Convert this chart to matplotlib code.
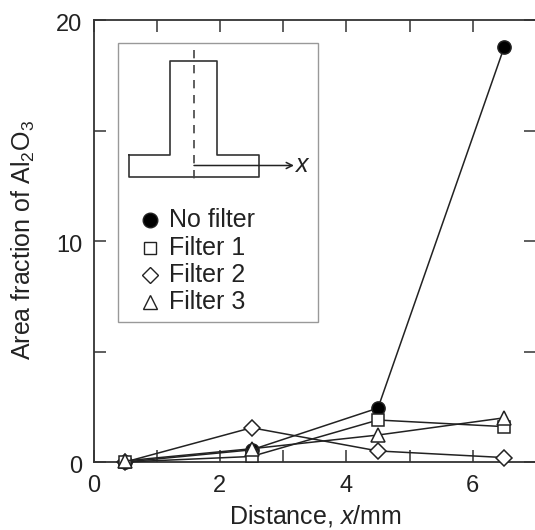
import matplotlib.pyplot as plt
from matplotlib.patches import FancyArrowPatch
from matplotlib.transforms import ScaledTranslation

# Datos
x = [0.5, 2.5, 4.5, 6.5]
no_filter = [0.0, 0.55, 2.44, 18.8]
filter_1 = [0.0, 0.25, 1.9, 1.6]
filter_2 = [0.0, 1.55, 0.5, 0.2]
filter_3 = [0.05, 0.6, 1.22, 2.0]

W, H = 535, 530
plt.rcParams['font.family'] = ['Liberation Sans', 'DejaVu Sans']
plt.rcParams['mathtext.fontset'] = 'custom'
plt.rcParams['mathtext.rm'] = 'Liberation Sans'
plt.rcParams['mathtext.it'] = 'Liberation Sans:italic'

fig = plt.figure(figsize=(W / 100, H / 100), dpi=100)
ax = fig.add_axes([93.5 / W, 1 - 462 / H, 442.5 / W, 442 / H])
ax.set_xlim(0, 7)
ax.set_ylim(0, 20)

line = dict(color='#222222', lw=1.1, mec='#222222', mew=1.1, clip_on=False)
ax.plot(x, filter_2, marker='D', ms=8.5, mfc='white', zorder=3, **line)
ax.plot(x, no_filter, marker='o', ms=9.5, mfc='black', zorder=4, **line)
ax.plot(x, filter_1, marker='s', ms=8.5, mfc='white', zorder=5, **line)
ax.plot(x, filter_3, marker='^', ms=10.5, mfc='white', zorder=6, **line)

# Ticks en los cuatro lados
ax.set_xticks([0, 2, 4, 6])
ax.set_xticks([1, 3, 5, 7], minor=True)
ax.set_yticks([0, 10, 20])
ax.set_yticks([5, 15], minor=True)
ax.tick_params(which='both', direction='in', top=True, right=True, length=8.5, width=1.1,
               color='#333333', labelsize=17, labelcolor='#222222')
ax.tick_params(axis='x', pad=9.5)
ax.tick_params(axis='y', pad=8)
for s in ax.spines.values():
    s.set_linewidth(1.3)
    s.set_color('#333333')

# Las etiquetas del eje y van un poco más abajo
offset = ScaledTranslation(0, -2 / 72, fig.dpi_scale_trans)
for label in ax.get_yticklabels():
    label.set_transform(label.get_transform() + offset)


def fx(px):
    return px / W


def fy(py):
    return 1 - py / H


fig.text(fx(315), fy(516), 'Distance, $x$/mm', fontsize=18, color='#222222', ha='center', va='center')
fig.text(fx(23), fy(240), 'Area fraction of Al$_2$O$_3$', fontsize=18, color='#222222',
         rotation=90, ha='center', va='center')

# Recuadro con el esquema y la leyenda
fig.add_artist(plt.Rectangle((fx(118), fy(322)), 200 / W, 279 / H, fc='white', ec='#999999',
                             lw=1.0, zorder=7))
shape_x = [129, 170, 170, 217, 217, 259, 259, 129, 129]
shape_y = [155, 155, 61, 61, 155, 155, 177, 177, 155]
fig.add_artist(plt.Line2D([fx(p) for p in shape_x], [fy(p) for p in shape_y], color='#333333',
                          lw=1.2, zorder=8))
fig.add_artist(plt.Line2D([fx(194), fx(194)], [fy(50), fy(184)], color='#444444', lw=1.2,
                          dashes=(5, 4), zorder=8))
fig.add_artist(FancyArrowPatch((fx(194), fy(165.5)), (fx(294), fy(165.5)), transform=fig.transFigure,
                               arrowstyle='->', mutation_scale=11, color='#222222', lw=1.1,
                               shrinkA=0, shrinkB=0, zorder=9))
fig.text(fx(296), fy(165), 'x', style='italic', fontsize=18, color='#222222', va='center', zorder=9)

names = ['No filter', 'Filter 1', 'Filter 2', 'Filter 3']
markers = ['o', 's', 'D', '^']
sizes = [10.5, 8, 8, 10]
faces = ['black', 'white', 'white', 'white']
rows = [220, 248, 275, 302]
for name, m, s, c, r in zip(names, markers, sizes, faces, rows):
    fig.add_artist(plt.Line2D([fx(150)], [fy(r - 0.5)], marker=m, ms=s, mfc=c, mec='#222222', mew=1.0,
                              ls='none', zorder=9))
    fig.text(fx(169), fy(r), name, fontsize=18, color='#222222', va='center', zorder=9)

fig.savefig('out.png', dpi=100)
